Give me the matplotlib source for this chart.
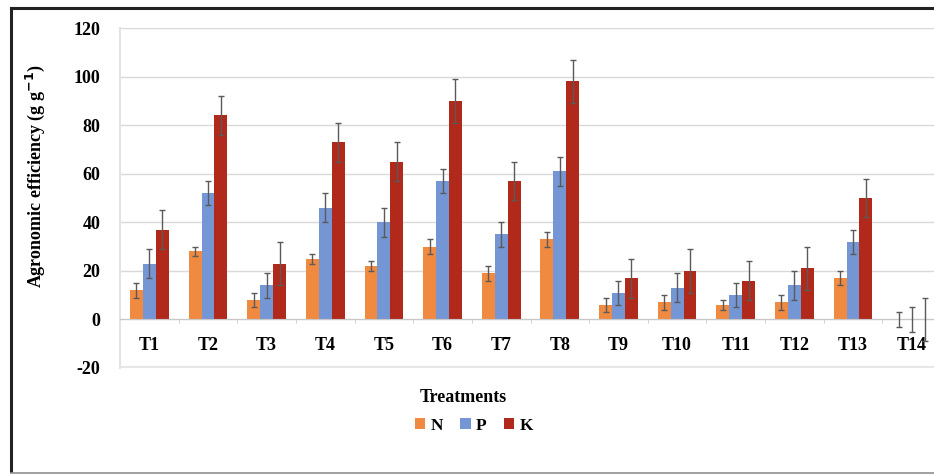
import numpy as np
import matplotlib
matplotlib.use("Agg")
import matplotlib.pyplot as plt
from matplotlib.lines import Line2D

plt.rcParams["font.family"] = ["Liberation Serif", "DejaVu Serif"]
plt.rcParams["font.weight"] = "bold"
plt.rcParams["axes.unicode_minus"] = False

treatments = ["T1", "T2", "T3", "T4", "T5", "T6", "T7",
              "T8", "T9", "T10", "T11", "T12", "T13", "T14"]

# agronomic efficiency
n_vals = [12, 28, 8, 25, 22, 30, 19, 33, 6, 7, 6, 7, 17, 0]
p_vals = [23, 52, 14, 46, 40, 57, 35, 61, 11, 13, 10, 14, 32, 0]
k_vals = [37, 84, 23, 73, 65, 90, 57, 98, 17, 20, 16, 21, 50, 0]

n_err = [3, 2, 3, 2, 2, 3, 3, 3, 3, 3, 2, 3, 3, 3]
p_err = [6, 5, 5, 6, 6, 5, 5, 6, 5, 6, 5, 6, 5, 5]
k_err = [8, 8, 9, 8, 8, 9, 8, 9, 8, 9, 8, 9, 8, 9]

colors = ["#F08A40", "#7596D4", "#B0291B"]

fig = plt.figure(figsize=(9.34, 4.75), dpi=100)

# outer frame (right side cut off in the original)
fig.lines.append(Line2D([11 / 934, 11 / 934], [4 / 475, 1 - 8 / 475],
                        transform=fig.transFigure, color="#222222", lw=2.2))
fig.lines.append(Line2D([11 / 934, 1], [1 - 8 / 475, 1 - 8 / 475],
                        transform=fig.transFigure, color="#222222", lw=2.2))
fig.lines.append(Line2D([11 / 934, 1], [1 - 473 / 475, 1 - 473 / 475],
                        transform=fig.transFigure, color="#909090", lw=1.2))

ax = fig.add_axes([120 / 934, 1 - 368 / 475, 821 / 934, 340 / 475])

x = np.arange(len(treatments))
w = 0.22
series = [("N", n_vals, n_err), ("P", p_vals, p_err), ("K", k_vals, k_err)]
for i, (name, vals, err) in enumerate(series):
    pos = x + (i - 1) * w
    ax.bar(pos, vals, width=w, color=colors[i], label=name, zorder=2)
    ax.errorbar(pos, vals, yerr=err, fmt="none", ecolor="#5a5a5a",
                elinewidth=1, capsize=2, capthick=1, zorder=3)

ax.set_xlim(-0.5, len(treatments) - 0.5)
ax.set_ylim(-20, 120)
ax.set_yticks(range(-20, 121, 20))
ax.grid(axis="y", color="#d9d9d9", linewidth=1, zorder=0)
ax.set_axisbelow(True)
ax.axhline(-20, color="#e6e6e6", lw=3, zorder=1)

ax.spines["bottom"].set_position(("data", 0))
ax.spines["bottom"].set_color("#c8c8c8")
for s in ["top", "right"]:
    ax.spines[s].set_visible(False)
ax.spines["left"].set_color("#e3e3e3")
ax.spines["left"].set_linewidth(1.5)

ax.set_xticks(x)
ax.set_xticklabels(treatments, fontsize=13, fontweight="bold")
ax.set_xticks(x[:-1] + 0.5, minor=True)
ax.tick_params(axis="x", which="major", length=0, pad=13)
ax.tick_params(axis="x", which="minor", length=3, color="#c8c8c8")
ax.tick_params(axis="y", length=0, pad=14, labelsize=13)

ax.set_ylabel("Agronomic efficiency (g g$^{-1}$)", fontsize=13,
              fontweight="bold")
ax.yaxis.set_label_coords(-0.089, 0.565)

fig.text(463 / 934, 1 - 398 / 475, "Treatments", ha="center", va="center",
         fontsize=13, fontweight="bold")
fig.legend(loc="center", bbox_to_anchor=(474 / 934, 1 - 426 / 475), ncol=3,
           frameon=False, fontsize=12.5, handlelength=0.6, handleheight=0.6,
           handletextpad=0.3, columnspacing=1.0)

fig.savefig("out.png", dpi=100)
